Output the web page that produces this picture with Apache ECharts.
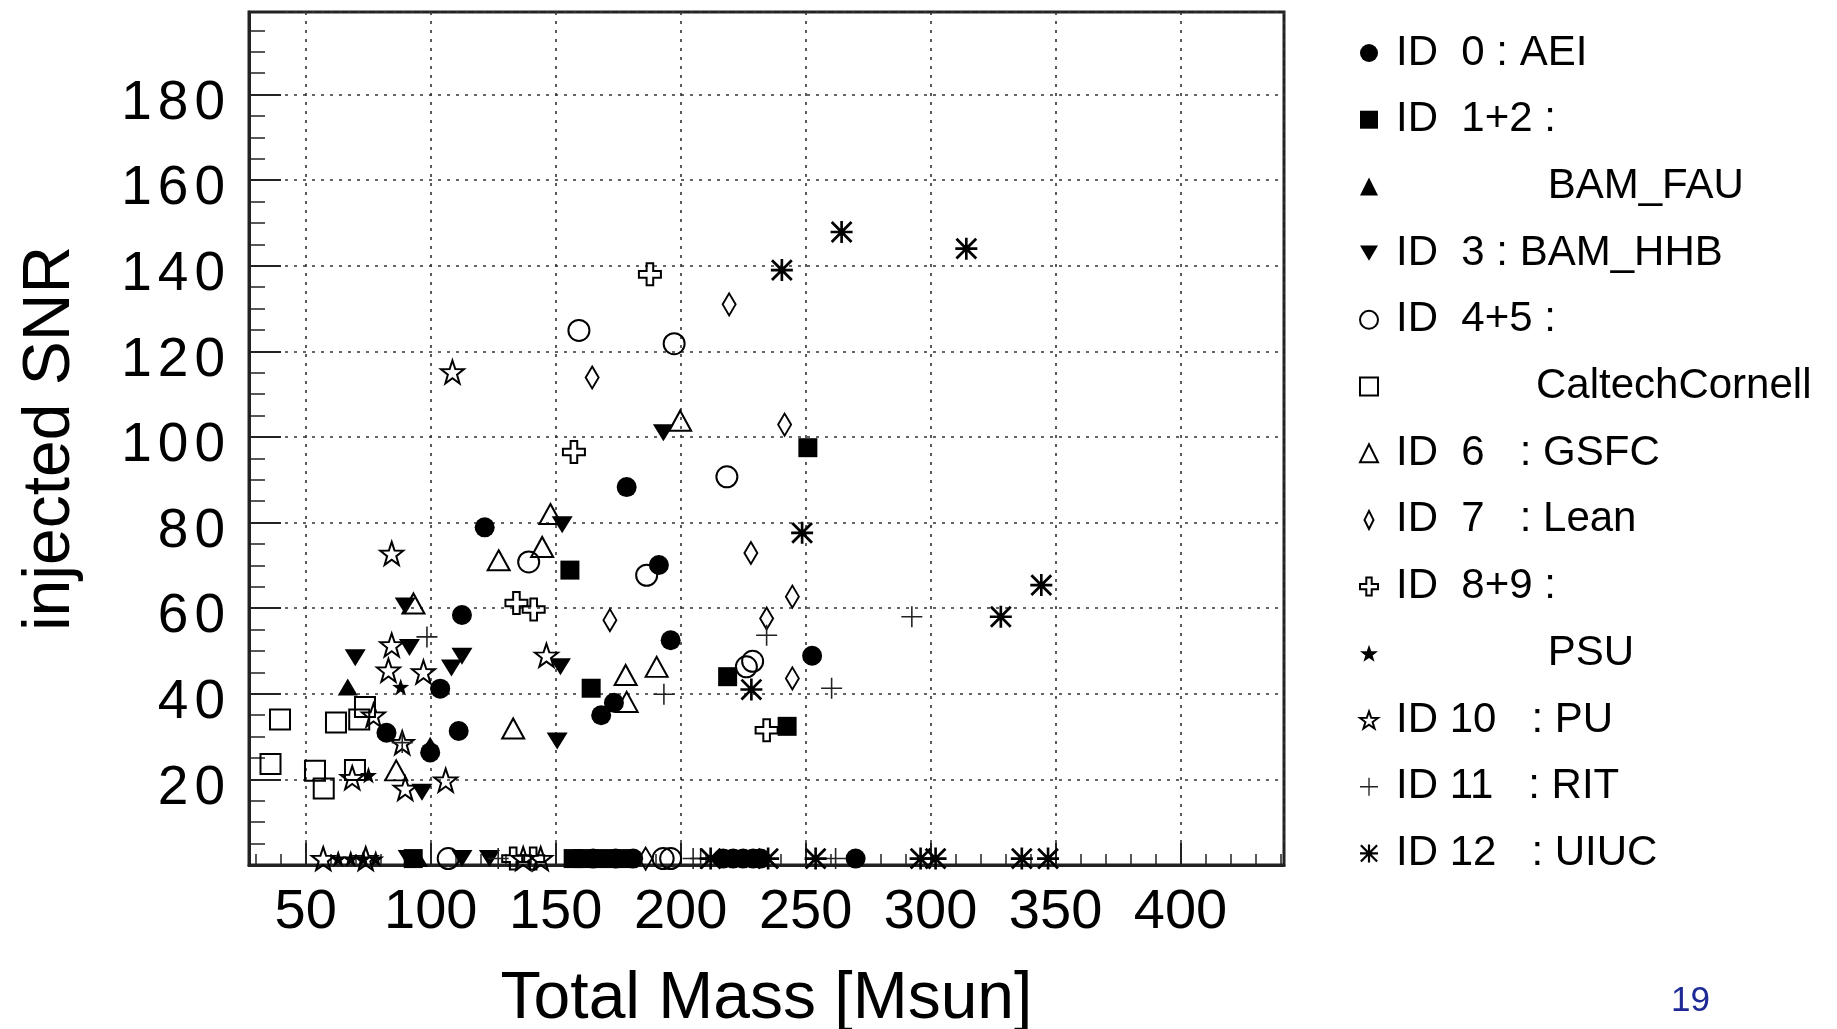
<!DOCTYPE html>
<html><head><meta charset="utf-8">
<script src="https://cdn.jsdelivr.net/npm/echarts@6/dist/echarts.min.js"></script>
<style>html,body{margin:0;padding:0;background:#fff}#c{width:1837px;height:1029px}</style>
</head><body><div id="c"></div>
<script>
// [total mass, injected SNR]
const AEI = [[178.4,88.3],[121.6,78.9],[191.3,70.1],[112.5,58.4],[196.0,52.5],[103.8,41.2],[252.6,48.9],[173.3,37.9],[168.2,35.0],[82.3,30.9],[99.8,26.3],[111.2,31.3],
  [165,1.5],[174,1.5],[181,1.5],[217,1.5],[221,1.5],[225,1.5],[229,1.5],[232,1.5],[270,1.5]];
const ID12 = [[155.7,68.9],[250.9,97.5],[164.2,41.3],[218.8,44.0],[242.6,32.4],[157,1.5],[161,1.5],[169,1.5],[177,1.5],[93,1.5]];
const BAM_FAU = [[66.8,41.6],[99.8,28.0],[95,1.5]];
const BAM_HHB = [[193.1,101.0],[152.6,79.5],[89.8,60.5],[91.5,50.8],[69.8,48.4],[112.5,48.8],[108.3,46.0],[151.9,46.3],[150.6,29.0],[96.5,17.0],[91,1.5],[112.5,1.5],[123.5,1.5],[160,1.5]];
const ID45 = [[159.3,124.9],[197.4,121.8],[218.5,90.7],[139.2,70.8],[186.4,67.7],[226.3,46.3],[228.8,47.6],[107,1.5],[193,1.5],[196,1.5]];
const CALTECH = [[39.7,34.0],[62.1,33.3],[71.4,34.0],[73.7,36.9],[35.9,23.6],[53.7,22.0],[57.2,17.9],[69.7,22.2]];
const GSFC = [[199.8,103.8],[147.9,82.0],[144.6,74.3],[127.2,71.2],[93.1,61.1],[178.0,44.4],[190.4,46.3],[178.4,38.1],[133.0,31.9],[86.2,22.1]];
const LEAN = [[219.4,131.0],[164.6,113.9],[241.6,102.9],[228.1,72.9],[171.7,57.2],[244.7,62.7],[234.4,57.6],[244.7,43.6],[186,1.5]];
const ID89 = [[187.7,138.0],[157.3,96.5],[134.3,61.2],[141.2,59.7],[234.4,31.5],[133,1.5],[141,1.5]];
const PSU = [[88.0,41.6],[75.1,21.0],[63,1.5],[68,1.5],[73,1.5],[78,1.5]];
const PU = [[108.7,115.2],[84.4,72.8],[84.4,51.4],[83.1,45.5],[97.1,45.1],[146.3,49.0],[77.1,35.0],[88.6,28.6],[68.6,20.4],[89.8,17.9],[106.0,19.8],[57,1.5],[74,1.5],[137,1.5],[144,1.5]];
const RIT = [[98.5,53.3],[193.3,39.9],[234.4,53.7],[292.5,58.0],[260.4,41.3],[88.6,28.6],[127,1.5],[205,1.5],[208,1.5],[262,1.5]];
const UIUC = [[264.4,147.9],[314.3,144.0],[240.5,139.0],[248.6,77.6],[344.3,65.4],[328.1,58.0],[228.3,41.0],[212,1.5],[235,1.5],[254,1.5],[296,1.5],[302,1.5],[336.5,1.5],[347,1.5]];

const seriesNames = ['AEI','ID12','BAM_FAU','BAM_HHB','ID45','CaltechCornell','GSFC','Lean','ID89','PSU','PU','RIT','UIUC'];
const legendLabels = ['ID  0 : AEI','ID  1+2 :','             BAM_FAU','ID  3 : BAM_HHB','ID  4+5 :','            CaltechCornell','ID  6   : GSFC','ID  7   : Lean','ID  8+9 :','             PSU','ID 10   : PU','ID 11   : RIT','ID 12   : UIUC'];
const xTitle = 'Total Mass [Msun]';
const yTitle = 'injected SNR';
const pageNo = '19';

const STAR = 'path://M10 0L12.35 6.76L19.51 6.91L13.8 11.24L15.88 18.09L10 14L4.12 18.09L6.2 11.24L0.49 6.91L7.65 6.76Z';
const DOWN = 'path://M0 0L20 0L10 17Z';
const DIAM = 'path://M5 0L10 10L5 20L0 10Z';
const CROSS = 'path://M7 0H13V7H20V13H13V20H7V13H0V7H7Z';
const PLUS = 'path://M9.25 0H10.75V9.25H20V10.75H10.75V20H9.25V10.75H0V9.25H9.25Z';
const AST = 'path://M0 8.8H20V11.2H0Z M8.8 0H11.2V20H8.8Z M1.9 0.1L19.9 18.1L18.1 19.9L0.1 1.9Z M18.1 0.1L19.9 1.9L1.9 19.9L0.1 18.1Z';

const filled = c => ({color: c || '#000', borderWidth: 0, opacity: 1});
const open = w => ({color: 'rgba(0,0,0,0)', borderColor: '#000', borderWidth: w || 2, opacity: 1});

const defs = [
  [AEI, 'circle', 20, filled()],
  [ID12, 'rect', 19, filled()],
  [BAM_FAU, 'triangle', [20,17], filled()],
  [BAM_HHB, DOWN, [21,17], filled()],
  [ID45, 'circle', 21, open()],
  [CALTECH, 'rect', 20, open()],
  [GSFC, 'triangle', [22,20], open()],
  [LEAN, DIAM, [13,22], open()],
  [ID89, CROSS, 22, open()],
  [PSU, STAR, 17, filled()],
  [PU, STAR, 23, open(2)],
  [RIT, PLUS, 21, filled('#222')],
  [UIUC, AST, 22, filled()]
];

const series = defs.map((d, i) => ({
  name: seriesNames[i], type: 'scatter', data: d[0], symbol: d[1], symbolSize: d[2],
  itemStyle: d[3], symbolKeepAspect: false, silent: true, emphasis: {disabled: true}
}));

const FONT = 'Liberation Sans';
const yLab = v => {
  if (!(v > 0 && v <= 180 && Math.abs(v % 20) < 1e-6)) return '';
  const s = String(v);
  return s.split('').map((c, i) => (i < s.length - 1 ? '{d|' + c + '}' : '{e|' + c + '}')).join('');
};

const chart = echarts.init(document.getElementById('c'), null, {renderer: 'canvas'});
chart.setOption({
  animation: false,
  backgroundColor: '#fff',
  textStyle: {fontFamily: FONT},
  grid: {left: 249, top: 12, right: 553, bottom: 164, show: true, borderColor: '#222', borderWidth: 3,
    containLabel: false, outerBoundsMode: 'none'},
  xAxis: {
    type: 'value', min: 27.3, max: 441.4, splitNumber: 8,
    name: xTitle, nameLocation: 'middle', nameGap: 102,
    nameTextStyle: {fontSize: 66, color: '#000', fontFamily: FONT},
    axisLine: {show: true, lineStyle: {color: '#222', width: 3}},
    axisTick: {show: true, inside: true, length: 22, lineStyle: {color: '#222', width: 2}},
    minorTick: {show: true, splitNumber: 5, length: 11, lineStyle: {color: '#222', width: 1.5}},
    axisLabel: {fontSize: 56, color: '#000', fontFamily: FONT, margin: 20, showMinLabel: false, showMaxLabel: false,
      formatter: v => (Math.abs(v % 50) < 1e-6 ? String(v) : '')},
    splitLine: {show: true, lineStyle: {color: '#333', width: 1.6, type: [3, 6]}}
  },
  yAxis: {
    type: 'value', min: 0, max: 199.3, interval: 20,
    name: yTitle, nameLocation: 'middle', nameGap: 165, nameRotate: 90,
    nameTextStyle: {fontSize: 66, color: '#000', fontFamily: FONT},
    axisLine: {show: true, lineStyle: {color: '#222', width: 3}},
    axisTick: {show: true, inside: true, length: 32, lineStyle: {color: '#222', width: 2}},
    minorTick: {show: true, splitNumber: 4, length: 16, lineStyle: {color: '#222', width: 1.5}},
    axisLabel: {color: '#000', fontFamily: FONT, margin: 24, showMinLabel: false, showMaxLabel: false,
      formatter: yLab,
      rich: {
        d: {fontSize: 55, fontFamily: FONT, color: '#000', padding: [18, 6, 0, 0]},
        e: {fontSize: 55, fontFamily: FONT, color: '#000', padding: [18, 0, 0, 0]}
      }},
    splitLine: {show: true, lineStyle: {color: '#333', width: 1.6, type: [3, 6]}}
  },
  legend: {
    orient: 'vertical', left: 1354, top: 27, itemWidth: 18, itemHeight: 18, itemGap: 24.7,
    selectedMode: false, symbolKeepAspect: true,
    data: seriesNames,
    formatter: name => legendLabels[seriesNames.indexOf(name)],
    textStyle: {fontSize: 42, lineHeight: 42, color: '#000', fontFamily: FONT, padding: [0, 0, 0, 13]}
  },
  graphic: [{type: 'text', left: 1671, top: 984, silent: true,
    style: {text: pageNo, fontSize: 35, fill: '#1f2a96', fontFamily: FONT}}],
  series: series
});
</script></body></html>
